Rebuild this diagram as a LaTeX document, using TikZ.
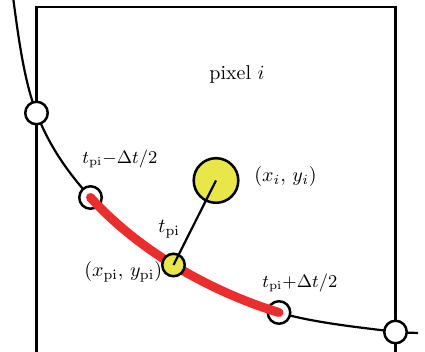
\documentclass[tikz,border=0pt]{standalone}
\definecolor{redc}{RGB}{234,45,45}
\definecolor{yel}{RGB}{232,230,72}
\begin{document}
\begin{tikzpicture}[x=0.5pt,y=-0.5pt,
  ring/.style={circle,draw=black,line width=1.25pt,fill=white,inner sep=0pt,minimum size=11.25pt},
  dot/.style={ring,fill=yel},
  bigdot/.style={dot,minimum size=22.3pt},
  lbl/.style={anchor=base west,inner sep=0pt,font=\fontsize{10}{12}\selectfont},
  tlbl/.style={lbl,font=\fontsize{8.6}{10}\selectfont},
  curve/.style={line width=1.1pt},
  frame/.style={line width=1.1pt},
  redseg/.style={line width=4.5pt,draw=redc,line cap=round}]
\useasboundingbox (0,0) rectangle (425,352);
\clip (0,0) rectangle (425,352);
\fill[white] (0,0) rectangle (425,352);
% curve points
\coordinate (p0) at (13,-3);
\coordinate (p1) at (36.5,113);
\coordinate (p2) at (90.5,197.5);
\coordinate (p3) at (173.5,265);
\coordinate (p4) at (279,312.5);
\coordinate (p5) at (395.5,332);
\coordinate (p6) at (418,333);
% frame corners
\coordinate (fbl) at (36.5,360);
\coordinate (ftl) at (36.5,7);
\coordinate (ftr) at (395.5,7);
\coordinate (fbr) at (395.5,360);
\draw[frame] (fbl) -- (ftl) -- (ftr) -- (fbr);
% black curve
\draw[curve] (p0) .. controls (18,33.7) and (23.6,79.6) .. (p1)
  .. controls (49.4,146.4) and (67.7,172.2) .. (p2)
  .. controls (113.3,222.8) and (142.1,245.8) .. (p3)
  .. controls (204.9,284.2) and (242,301.3) .. (p4)
  .. controls (316,323.7) and (372.3,328.6) .. (p5)
  .. controls (402.9,333.1) and (411,332.5) .. (p6);
% rings
\node[ring] (r1) at (p1) {};
\node[ring] (r2) at (p2) {};
\node[ring] (r4) at (p4) {};
\node[ring] (r5) at (p5) {};
% red segment
\draw[redseg] (p2) .. controls (113.3,222.8) and (142.1,245.8) .. (p3)
  .. controls (204.9,284.2) and (242,301.3) .. (p4);
% yellow points
\node[dot] (s) at (p3) {};
\node[bigdot] (b) at (216,180.5) {};
\draw[line width=1.1pt] (s.center) -- (b.center);
% labels
\node[lbl] (lpix) at (209,80) {pixel $i$};
\node[tlbl] (lminus) at (82,164) {$t_{\mathrm{pi}}{-}\Delta t/2$};
\node[tlbl] (lplus) at (262,288) {$t_{\mathrm{pi}}{+}\Delta t/2$};
\node[lbl] (ltpi) at (158,233) {$t_{\mathrm{pi}}$};
\node[lbl] (lxpi) at (84,277) {$(x_{\mathrm{pi}},\, y_{\mathrm{pi}})$};
\node[lbl] (lxi) at (254,182) {$(x_i,\, y_i)$};
\end{tikzpicture}
\end{document}
